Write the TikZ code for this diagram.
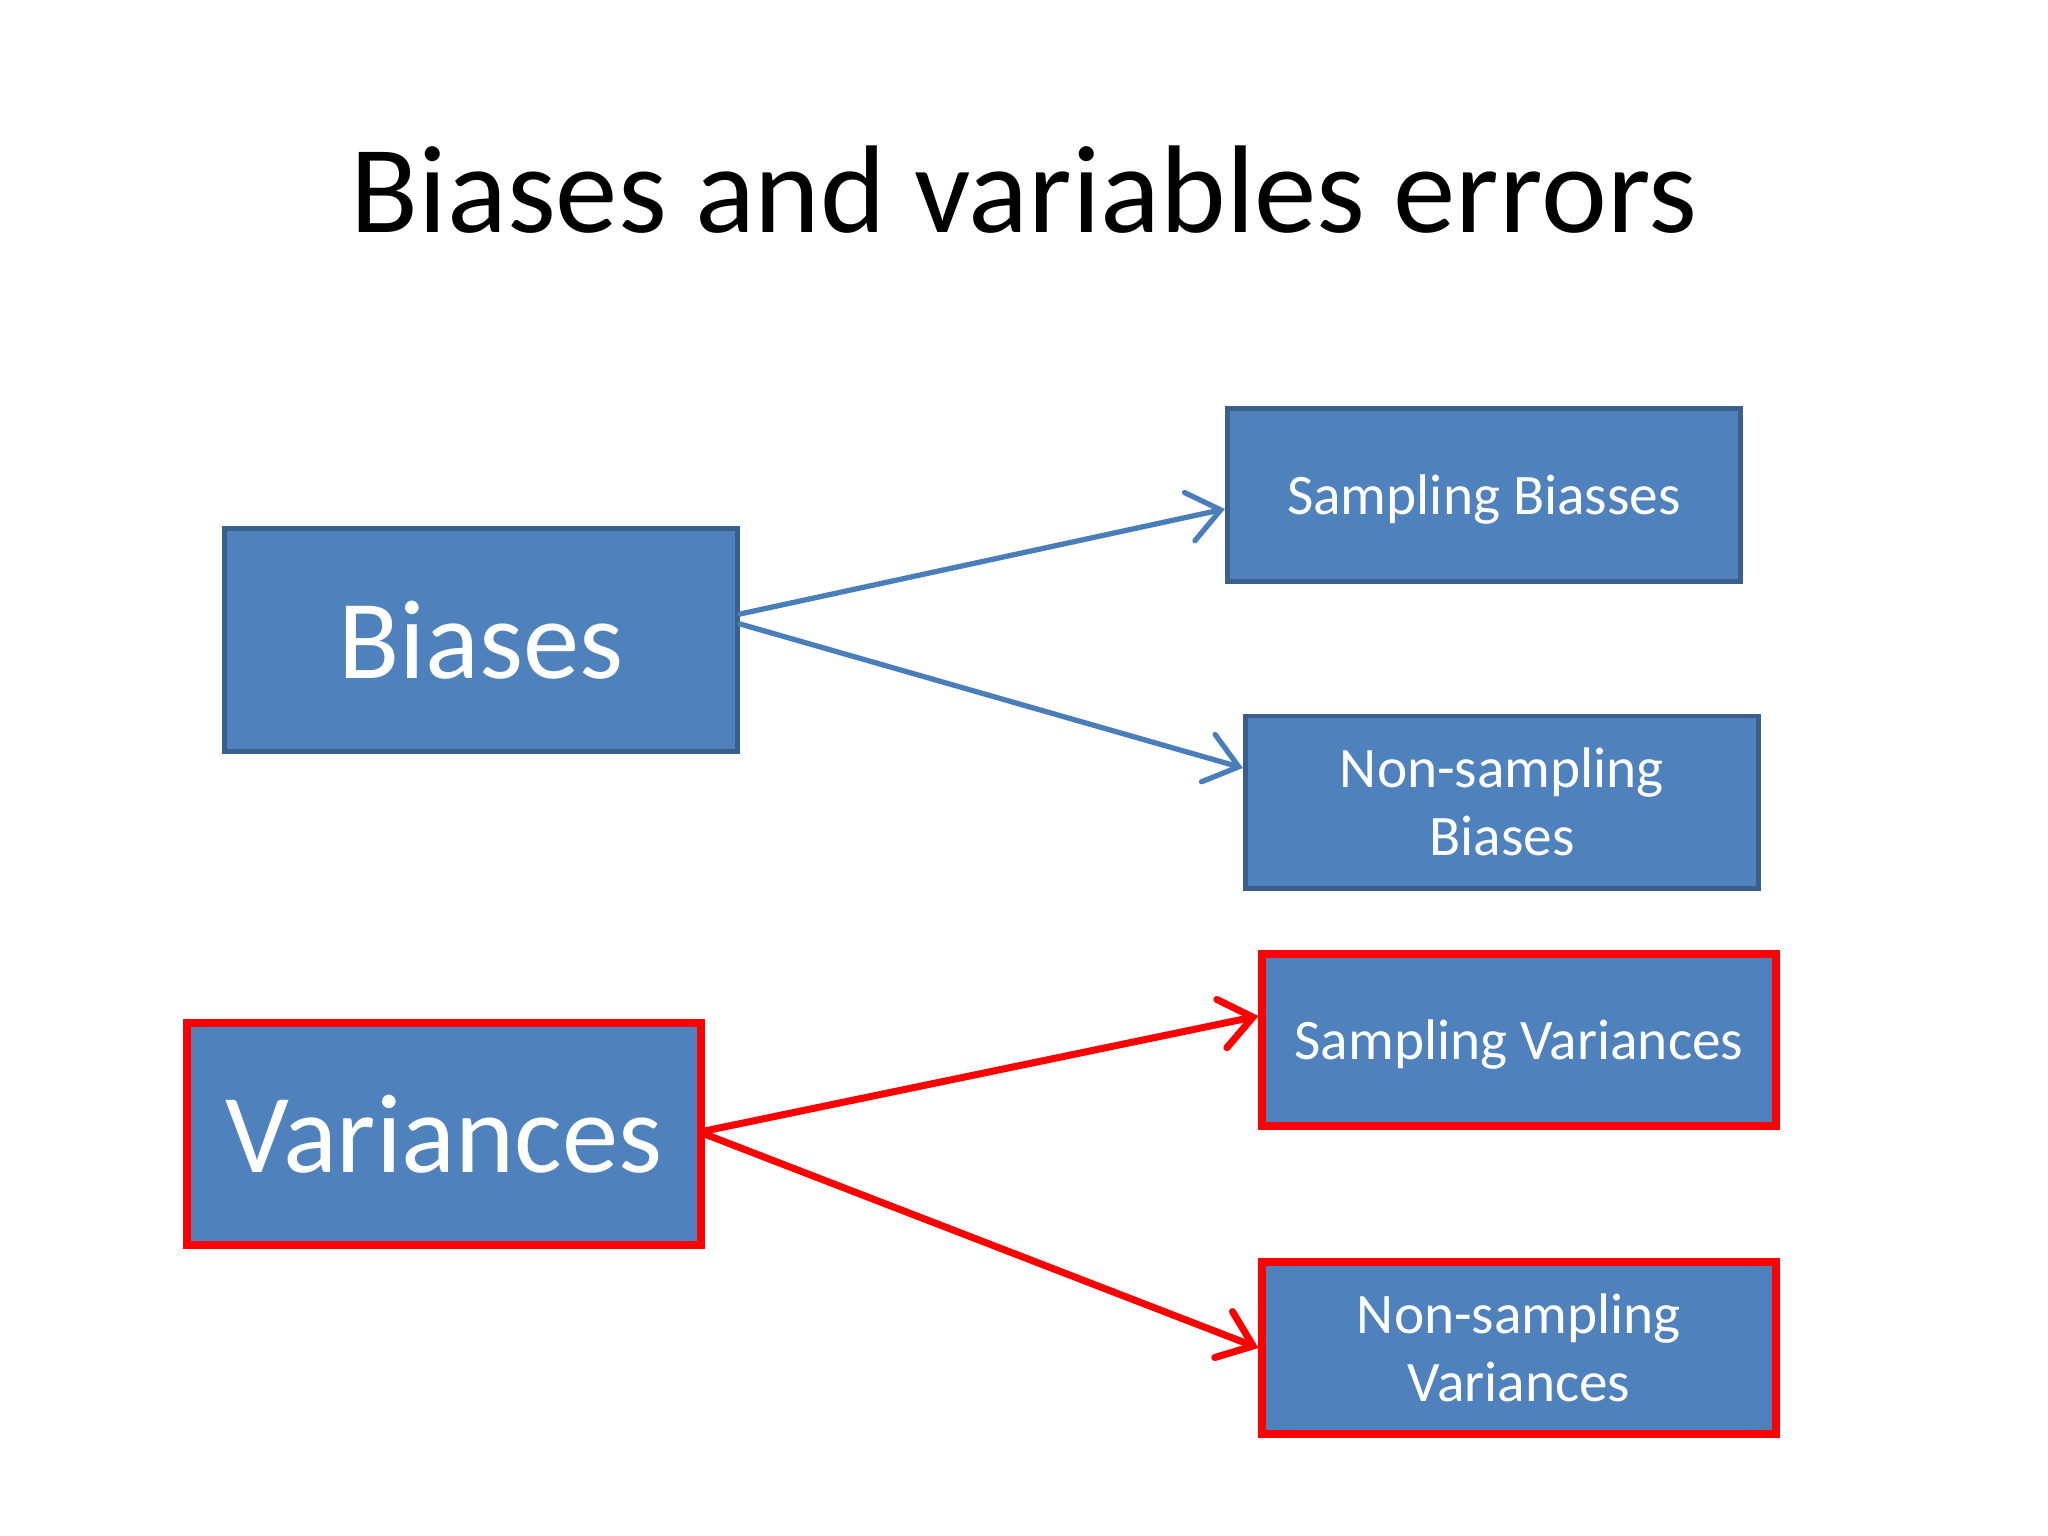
\documentclass[tikz,border=0pt]{standalone}
\usepackage{fontspec}
\setmainfont{Carlito}
\usetikzlibrary{arrows.meta}
\definecolor{boxfill}{HTML}{4F81BD}
\definecolor{boxline}{HTML}{3A5F8D}
\definecolor{arrowblue}{HTML}{4A7EBB}
\definecolor{redline}{HTML}{FF0000}
\tikzset{
  bigbox/.style={rectangle, fill=boxfill, text=white, inner sep=0pt,
    minimum width=5.13cm, minimum height=2.22cm,
    font=\fontsize{32}{38}\selectfont},
  smallbox/.style={rectangle, fill=boxfill, text=white, inner sep=0pt,
    minimum width=5.13cm, minimum height=1.72cm, align=center,
    font=\fontsize{16.3}{19.5}\selectfont},
  oneline/.style={text depth=0pt},
  blueframe/.style={draw=boxline, line width=1.4pt},
  redframe/.style={draw=redline, line width=2.2pt},
  bluearrow/.style={draw=arrowblue, line width=1.5pt, line cap=round,
    -{Straight Barb[length=9pt,width=14pt,line cap=round]}},
  redarrow/.style={draw=redline, line width=2pt, line cap=round,
    -{Straight Barb[length=9pt,width=14pt,line cap=round]}},
}
\begin{document}
\begin{tikzpicture}[x=0.01cm,y=-0.01cm]
\useasboundingbox[fill=white] (0,0) rectangle (2048,1536);
\node[anchor=base, font=\fontsize{35.5}{43}\selectfont] (title) at (1024,232) {Biases and variables errors};
\node[bigbox, blueframe] (b) at (481,640) {Biases};
\node[smallbox, oneline, blueframe] (sb) at (1484,495) {Sampling Biasses};
\node[smallbox, blueframe] (nb) at (1502,802) {Non-sampling\\Biases};
\node[bigbox, redframe] (v) at (444,1134) {Variances};
\node[smallbox, oneline, redframe] (sv) at (1519,1040) {Sampling Variances};
\node[smallbox, redframe] (nv) at (1519,1348) {Non-sampling\\Variances};
\draw[bluearrow] ([yshift=0.26cm]b.east) -- ([yshift=-0.14cm]sb.west);
\draw[bluearrow] ([yshift=0.16cm]b.east) -- ([yshift=0.34cm]nb.west);
\draw[redarrow] ([yshift=0.03cm]v.east) -- ([yshift=0.24cm]sv.west);
\draw[redarrow] (v.east) -- (nv.west);
\end{tikzpicture}
\end{document}
